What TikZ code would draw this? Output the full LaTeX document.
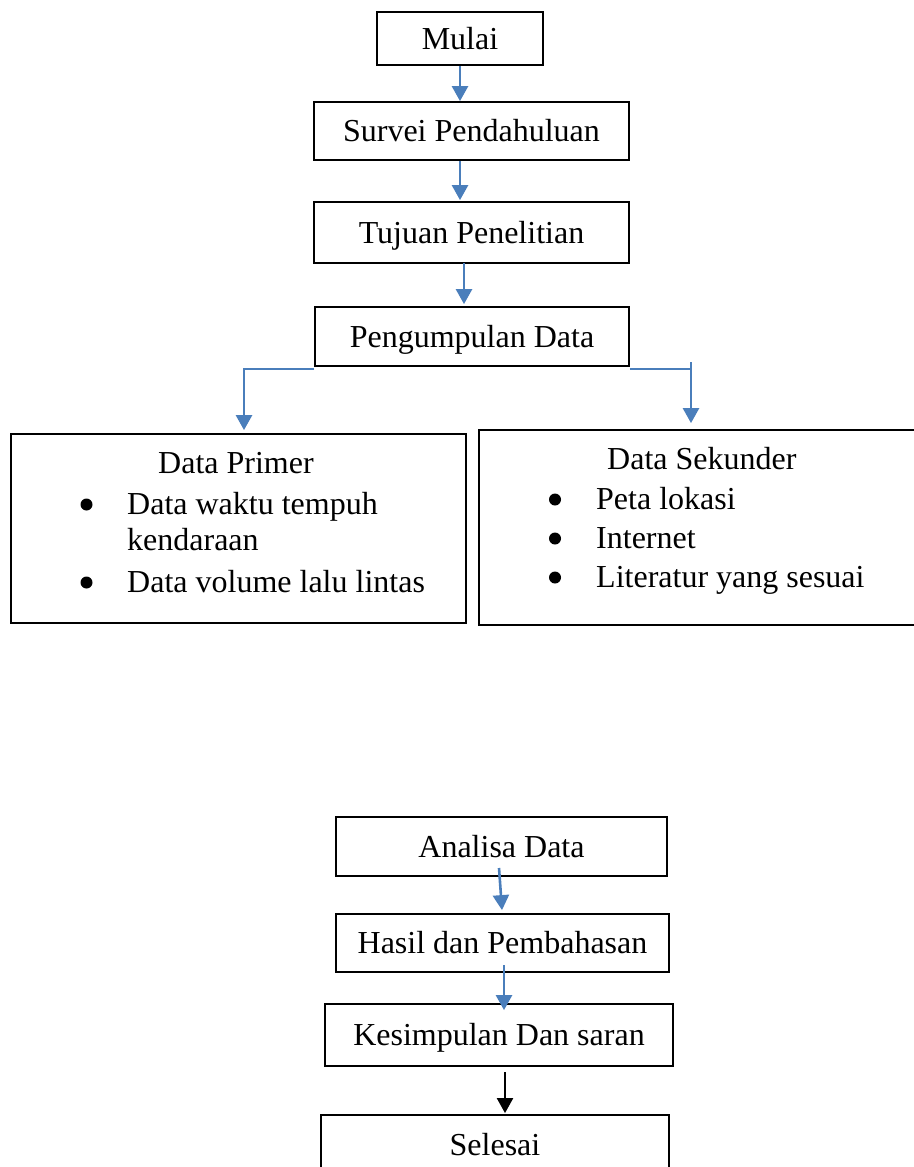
\documentclass[tikz,border=0pt]{standalone}
\usepackage{fontspec}
\setmainfont{Liberation Serif}
\usetikzlibrary{arrows.meta}
\definecolor{wblue}{HTML}{4A7EBB}
\begin{document}
\begin{tikzpicture}[x=1pt,y=-1pt,
 box/.style={draw=black, line width=1.8pt, rectangle, inner sep=0pt, text height=21pt, text depth=0pt, font=\fontsize{32}{38}\selectfont},
 txt/.style={inner sep=0pt, anchor=base west, font=\fontsize{32}{38}\selectfont},
 bul/.style={circle, fill=black, inner sep=0pt, minimum size=12pt},
 blink/.style={draw=wblue, line width=2.6pt},
 barrow/.style={blink, -{Triangle[length=15pt,width=16pt]}},
 karrow/.style={draw=black, line width=2.2pt, -{Triangle[length=15pt,width=16pt]}}
]
\useasboundingbox (0,0) rectangle (913,1167);

\node[box, minimum width=166pt, minimum height=53pt] (mulai) at (460,38.5) {Mulai};
\node[box, minimum width=315pt, minimum height=58pt] (survei) at (471.5,131) {Survei Pendahuluan};
\node[box, minimum width=315pt, minimum height=61pt] (tujuan) at (471.5,232.5) {Tujuan Penelitian};
\node[box, minimum width=314pt, minimum height=59pt] (peng) at (472,336.5) {Pengumpulan Data};

\node[box, minimum width=455pt, minimum height=189pt] (primer) at (238.25,528.5) {};
\node[txt] (primT) at (158,473) {Data Primer};
\node[bul] (pb1) at (86.5,504.5) {};
\node[txt] (p1) at (127,514) {Data waktu tempuh};
\node[txt] (p1b) at (127,550) {kendaraan};
\node[bul] (pb2) at (86.5,582.5) {};
\node[txt] (p2) at (127,592) {Data volume lalu lintas};

\node[box, minimum width=436pt, minimum height=195pt] (sekunder) at (697,527.5) {};
\node[txt] (sekT) at (607,469) {Data Sekunder};
\node[bul] (sb1) at (555,499.5) {};
\node[txt] (s1) at (596,509) {Peta lokasi};
\node[bul] (sb2) at (555,538.5) {};
\node[txt] (s2) at (596,548) {Internet};
\node[bul] (sb3) at (555,577.5) {};
\node[txt] (s3) at (596,587) {Literatur yang sesuai};

\node[box, minimum width=331pt, minimum height=59pt] (analisa) at (501.5,846.5) {Analisa Data};
\node[box, minimum width=333pt, minimum height=58pt] (hasil) at (502.5,943) {Hasil dan Pembahasan};
\node[box, minimum width=348pt, minimum height=62pt] (kesim) at (499,1035) {Kesimpulan Dan saran};
\node[box, minimum width=348pt, minimum height=60pt] (selesai) at (495,1145) {Selesai};

% connectors
\draw[barrow] (mulai.south) -- (mulai.south |- survei.north);
\draw[barrow] (survei.south -| mulai.south) -- ([yshift=1pt]tujuan.north -| mulai.south);
\coordinate (c3) at (464,263);
\draw[barrow] (c3) -- ([yshift=2pt]c3 |- peng.north);

\coordinate (lb) at (244,368);
\draw[barrow] ([yshift=-2pt]peng.south west) -| ([yshift=3pt]lb |- primer.north);
\coordinate (rt) at (691,362);
\draw[blink] ([yshift=-2pt]peng.south east) -- ([yshift=-2pt]peng.south east -| rt);
\draw[barrow] (rt) -- ([yshift=6pt]rt |- sekunder.north);

\coordinate (a1) at (499,868);
\draw[barrow] (a1) -- ([xshift=-0.5pt,yshift=3pt]hasil.north);
\coordinate (h1) at (504,965);
\draw[barrow] (h1) -- ([yshift=-7pt]h1 |- kesim.north);
\coordinate (k1) at (505,1072);
\draw[karrow] (k1) -- ([yshift=1pt]k1 |- selesai.north);
\end{tikzpicture}
\end{document}
